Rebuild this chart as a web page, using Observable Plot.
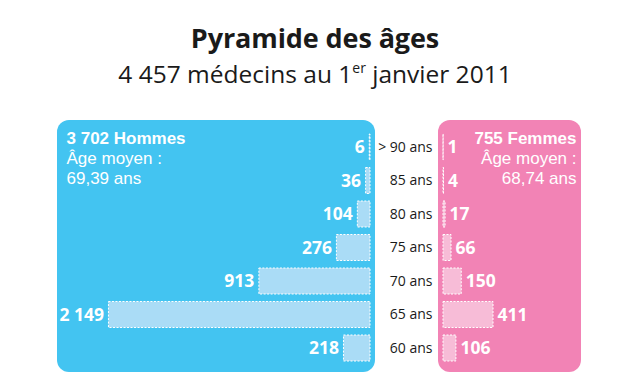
<!DOCTYPE html>
<html>
<head>
<meta charset="utf-8">
<script src="https://cdn.jsdelivr.net/npm/d3@7"></script>
<script src="https://cdn.jsdelivr.net/npm/@observablehq/plot@0.6"></script>
<style>
  body { margin: 0; background: #fff; font-family: "Open Sans", sans-serif; }
  #wrap { width: 630px; height: 388px; position: relative; overflow: hidden; }
  #title { position: absolute; top: 24px; width: 630px; text-align: center; font-weight: 700; font-size: 27px; color: #1a1a1a; line-height: 1; letter-spacing: -0.1px; }
  #subtitle { position: absolute; top: 62px; width: 630px; text-align: center; font-size: 24.5px; color: #1a1a1a; line-height: 1; }
  #subtitle sup { font-size: 14px; vertical-align: 0; position: relative; top: -10px; }
  #chart { position: absolute; top: 100px; left: 0; }
</style>
</head>
<body>
<div id="wrap">
  <div id="title">Pyramide des âges</div>
  <div id="subtitle">4 457 médecins au 1<sup>er</sup> janvier 2011</div>
  <div id="chart"></div>
</div>
<script>
// ---- data ----
const ages = ["> 90 ans", "85 ans", "80 ans", "75 ans", "70 ans", "65 ans", "60 ans"];
const hommes = [6, 36, 104, 276, 913, 2149, 218];
const femmes = [1, 4, 17, 66, 150, 411, 106];
const hommesLabels = ["3 702 Hommes", "Âge moyen :", "69,39 ans"];
const femmesLabels = ["755 Femmes", "Âge moyen :", "68,74 ans"];
const valueFmt = v => d3.format(",")(v).replace(/,/g, " ");

// ---- layout (pixels per doctor, centre column) ----
const W = 630, H = 288;
const K = 0.1217;          // px per unit
const C = 406.5;           // centre of age column (px)
const GAP = 36.5 / K;      // half gap in data units
const ROW0 = 47, STEP = 33.5;
const px2u = p => (p - C) / K;
const py2i = p => (p - ROW0) / STEP;
const HB = 13 / STEP;      // bar half height in row units

const rows = ages.map((a, i) => ({age: a, i, h: hommes[i], f: femmes[i]}));

const blue = "#43c4f1", pink = "#f283b5";
const lightBlue = "#aadcf6", lightPink = "#f7bcd7";

const panels = [
  {x1: px2u(57), x2: px2u(375), y1: py2i(20), y2: py2i(272), fill: blue},
  {x1: px2u(438), x2: px2u(581), y1: py2i(20), y2: py2i(272), fill: pink}
];

const headH = hommesLabels.map((t, j) => ({t, j}));
const headF = femmesLabels.map((t, j) => ({t, j}));
const HLH = 19.6, HFS = 17;
const hy = d => py2i(38.5 + d.j * HLH);
const HFONT = "Liberation Sans, Arial, sans-serif";

const chart = Plot.plot({
  width: W, height: H,
  margin: 0,
  x: {domain: [px2u(0), px2u(W)], range: [0, W], axis: null},
  y: {domain: [0, 6], range: [ROW0, ROW0 + 6 * STEP], axis: null},
  style: {fontFamily: "Open Sans, sans-serif", background: "transparent"},
  marks: [
    Plot.rect(panels, {x1: "x1", x2: "x2", y1: "y1", y2: "y2", fill: "fill", rx: 12}),
    // men bars
    Plot.rect(rows, {x1: -GAP, x2: d => -GAP - d.h, y1: d => d.i - HB, y2: d => d.i + HB,
      fill: lightBlue, stroke: "white", strokeWidth: 1, strokeDasharray: "2,1.5"}),
    // women bars
    Plot.rect(rows, {x1: GAP, x2: d => GAP + d.f, y1: d => d.i - HB, y2: d => d.i + HB,
      fill: lightPink, stroke: "white", strokeWidth: 1, strokeDasharray: "2,1.5"}),
    // men values
    Plot.text(rows, {x: d => -GAP - d.h, y: "i", text: d => valueFmt(d.h), textAnchor: "end", dx: -5,
      fill: "white", fontWeight: 700, fontSize: 17.5}),
    // women values
    Plot.text(rows, {x: d => GAP + d.f, y: "i", text: d => valueFmt(d.f), textAnchor: "start", dx: 4,
      fill: "white", fontWeight: 700, fontSize: 17.5}),
    // age labels
    Plot.text(rows, {x: px2u(432), y: "i", text: "age", textAnchor: "end", fill: "#1a1a1a", fontSize: 14}),
    // headers
    Plot.text(headH.filter(d => d.j === 0), {x: px2u(66), y: hy, text: "t", textAnchor: "start",
      fill: "white", fontSize: HFS, fontWeight: 700, fontFamily: HFONT}),
    Plot.text(headH.filter(d => d.j > 0), {x: px2u(66), y: hy, text: "t", textAnchor: "start",
      fill: "white", fontSize: HFS, fontFamily: HFONT}),
    Plot.text(headF.filter(d => d.j === 0), {x: px2u(576), y: hy, text: "t", textAnchor: "end",
      fill: "white", fontSize: HFS, fontWeight: 700, fontFamily: HFONT}),
    Plot.text(headF.filter(d => d.j > 0), {x: px2u(576), y: hy, text: "t", textAnchor: "end",
      fill: "white", fontSize: HFS, fontFamily: HFONT})
  ]
});
document.getElementById("chart").appendChild(chart);
</script>
</body>
</html>
